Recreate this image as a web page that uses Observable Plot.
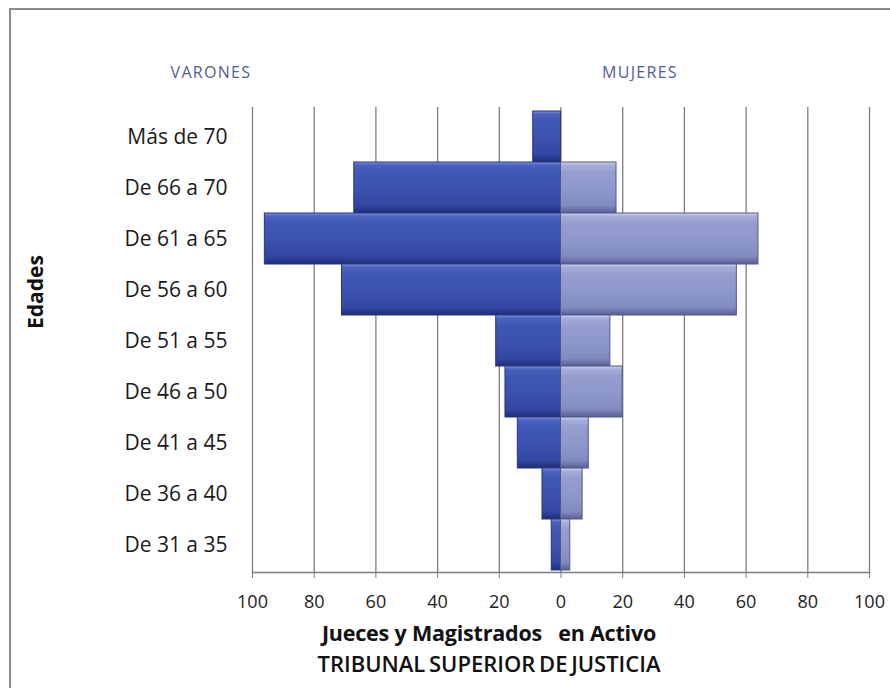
<!DOCTYPE html>
<html><head><meta charset="utf-8">
<script src="https://cdn.jsdelivr.net/npm/d3@7"></script>
<script src="https://cdn.jsdelivr.net/npm/@observablehq/plot@0.6"></script>
<style>
body{margin:0;background:#fff;}
#wrap{position:relative;width:890px;height:688px;overflow:hidden;font-family:"Open Sans",sans-serif;background:#fff;}
#frame{position:absolute;left:9px;top:8px;width:900px;height:700px;border-left:2px solid #8a8a8a;border-top:2px solid #8a8a8a;pointer-events:none;}
.lbl{position:absolute;line-height:1;white-space:pre;}
#chart{position:absolute;left:0;top:0;}
</style>
</head><body>
<div id="wrap">
  <div id="chart"></div>
  <div id="frame"></div>
  <div class="lbl" id="varones" style="left:211px;top:64px;font-size:16px;color:#4d5d9d;letter-spacing:1.3px;transform:translateX(-50%);">VARONES</div>
  <div class="lbl" id="mujeres" style="left:640px;top:64px;font-size:16px;color:#4d5d9d;letter-spacing:1.3px;transform:translateX(-50%);">MUJERES</div>
  <div class="lbl" id="edades" style="left:35px;top:292px;font-size:21px;font-weight:700;color:#111;transform:translate(-50%,-50%) rotate(-90deg);">Edades</div>
  <div class="lbl" id="t1" style="left:489px;top:622px;font-size:21.5px;font-weight:700;color:#111;letter-spacing:-0.2px;transform:translateX(-50%);">Jueces y Magistrados   en Activo</div>
  <div class="lbl" id="t2" style="left:489px;top:652px;font-size:22px;font-weight:600;color:#111;letter-spacing:0px;word-spacing:-2px;transform:translateX(-50%);">TRIBUNAL SUPERIOR DE JUSTICIA</div>
</div>
<script>
const ages = ["Más de 70","De 66 a 70","De 61 a 65","De 56 a 60","De 51 a 55","De 46 a 50","De 41 a 45","De 36 a 40","De 31 a 35"];
const varones = [9, 67, 96, 71, 21, 18, 14, 6, 3];
const mujeres = [0, 18, 64, 57, 16, 20, 9, 7, 3];
const xTicks = [-100, -80, -60, -40, -20, 0, 20, 40, 60, 80, 100];

const rows = ages.map((a, i) => ({age: a, varones: varones[i], mujeres: mujeres[i]}));

const svg = Plot.plot({
  width: 890,
  height: 620,
  marginLeft: 252,
  marginRight: 21,
  marginTop: 109,
  marginBottom: 48,
  style: {fontFamily: "Open Sans, sans-serif", background: "transparent", overflow: "visible"},
  x: {domain: [-100, 100]},
  y: {domain: ages, padding: 0},
  marks: [
    Plot.ruleX(xTicks, {stroke: "#7d7d7d", strokeWidth: 1.3, insetTop: -2}),
    Plot.barX(rows, {x1: d => -d.varones, x2: 0, y: "age", fill: "url(#gMen)", stroke: "#26367f", strokeWidth: 1, inset: 0}),
    Plot.barX(rows.filter(d => d.mujeres > 0), {x1: 0, x2: "mujeres", y: "age", fill: "url(#gWom)", stroke: "#4f5788", strokeWidth: 1, inset: 0}),
    Plot.frame({anchor: "bottom", stroke: "#7d7d7d", strokeWidth: 1.5}),
    Plot.axisX({ticks: xTicks, tickFormat: d => Math.abs(d), tickSize: 6, tickPadding: 17, fontSize: 18, stroke: "#7d7d7d", color: "#222", label: null, style: {letterSpacing: "-0.3px"}}),
    Plot.axisY({tickSize: 0, tickPadding: 25, fontSize: 21, color: "#1a1a1a", label: null, style: {letterSpacing: "0.9px"}})
  ]
});

const defs = d3.select(svg).insert("defs", ":first-child");
function grad(id, stops) {
  const g = defs.append("linearGradient").attr("id", id).attr("x1", 0).attr("y1", 0).attr("x2", 0).attr("y2", 1);
  stops.forEach(([o, c]) => g.append("stop").attr("offset", o).attr("stop-color", c));
}
grad("gMen", [[0, "#8092dc"], [0.06, "#4c62c0"], [0.2, "#4057b6"], [0.55, "#3b51ad"], [0.85, "#3347a2"], [1, "#1d2c76"]]);
grad("gWom", [[0, "#d3d8f2"], [0.06, "#a6aedb"], [0.2, "#959ecf"], [0.55, "#8e97c9"], [0.85, "#828bbe"], [1, "#575f95"]]);

document.getElementById("chart").appendChild(svg);
</script>
</body></html>
